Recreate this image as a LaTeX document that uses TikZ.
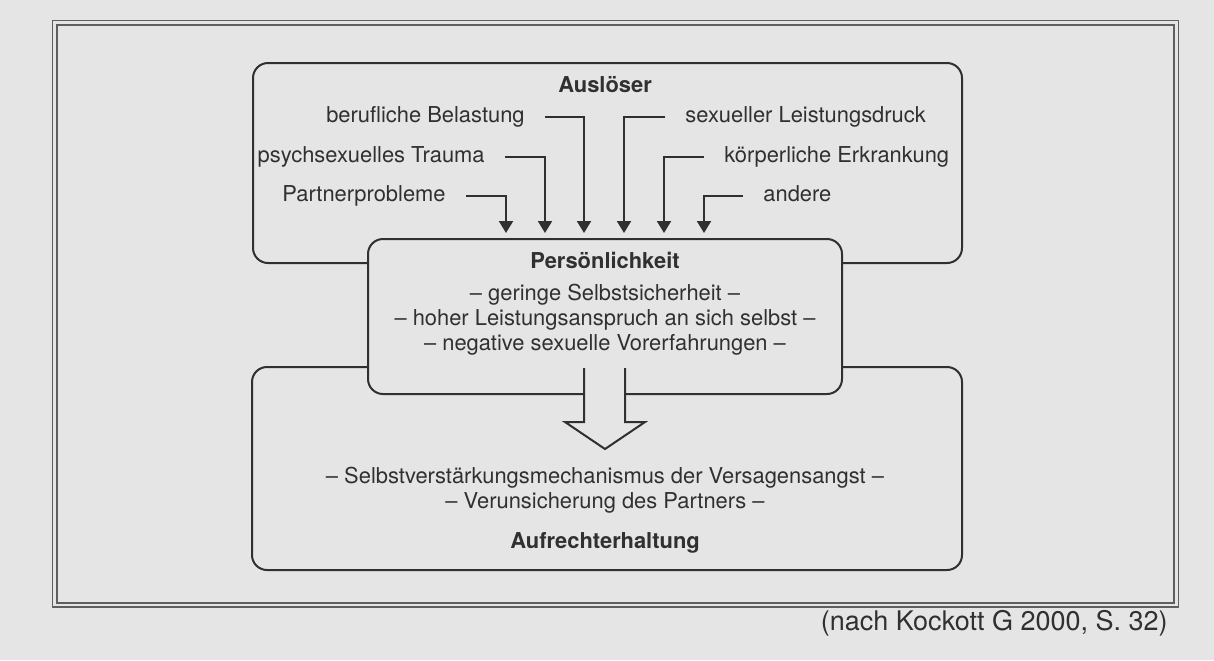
\documentclass[tikz,border=0pt]{standalone}
\usepackage{fontspec}
\setmainfont{TeX Gyre Heros}
\usetikzlibrary{arrows.meta}
\definecolor{paper}{RGB}{229,229,229}
\definecolor{ink}{RGB}{48,48,48}
\definecolor{frameink}{RGB}{95,95,95}
\begin{document}
\begin{tikzpicture}[x=0.5pt,y=-0.5pt,
  every node/.style={font=\fontsize{10.95}{12.5}\selectfont, text=ink, inner sep=0pt},
  lbl/.style={text height=0.72em, text depth=0.21em},
  ttl/.style={lbl, font=\fontsize{10.95}{12.5}\selectfont\bfseries},
  box/.style={draw=ink, line width=1pt, rounded corners=7.5pt, fill=paper},
  conn/.style={draw=ink, line width=1pt, -{Triangle[width=7pt,length=6pt]}},
  frameline/.style={draw=frameink, line width=0.8pt},
  hollow/.style={draw=ink, line width=1pt, line join=miter},
]
\fill[paper] (0,0) rectangle (1214,660);
\useasboundingbox (0,0) rectangle (1214,660);
% outer double frame
\draw[frameline] (52.5,20.5) rectangle (1178.5,607);
\draw[frameline] (57,25) rectangle (1174,603);
% boxes
\node[box, minimum width=355pt, minimum height=101.5pt] (aufr) at (607,468.5) {};
\node[box, minimum width=354.5pt, minimum height=100pt] (ausl) at (607.5,163) {};
\node[box, minimum width=237pt, minimum height=77.5pt] (pers) at (605,316.5) {};
% hollow arrow
\fill[paper] (584,368) -- (584,422) -- (565,422) -- (605,449) -- (645,422) -- (625,422) -- (625,368) -- cycle;
\draw[hollow] (584,368) -- (584,422) -- (565,422) -- (605,449) -- (645,422) -- (625,422) -- (625,368);
% Ausloeser texts
\node[ttl] (tAus) at (605,87) {Auslöser};
\node[lbl, anchor=east] (l1) at (446,196) {Partnerprobleme};
\node[lbl, anchor=east] (l2) at (485,157) {psychsexuelles Trauma};
\node[lbl, anchor=east] (l3) at (525,117) {berufliche Belastung};
\node[lbl, anchor=west] (r1) at (685,117) {sexueller Leistungsdruck};
\node[lbl, anchor=west] (r2) at (724,157) {körperliche Erkrankung};
\node[lbl, anchor=west] (r3) at (763,196) {andere};
\coordinate (p1) at (506,233);
\coordinate (p2) at (545,233);
\coordinate (p3) at (584,233);
\coordinate (p4) at (624,233);
\coordinate (p5) at (664,233);
\coordinate (p6) at (704,233);
\draw[conn] ([xshift=10pt]l1.east) -| (p1);
\draw[conn] ([xshift=10pt]l2.east) -| (p2);
\draw[conn] ([xshift=10pt]l3.east) -| (p3);
\draw[conn] ([xshift=-10pt]r1.west) -| (p4);
\draw[conn] ([xshift=-10pt]r2.west) -| (p5);
\draw[conn] ([xshift=-10pt]r3.west) -| (p6);
% Persoenlichkeit texts
\node[ttl] (tPers) at (605,263) {Persönlichkeit};
\node[lbl] (pa) at (605,295) {– geringe Selbstsicherheit –};
\node[lbl] (pb) at (605,320) {– hoher Leistungsanspruch an sich selbst –};
\node[lbl] (pc) at (605,345) {– negative sexuelle Vorerfahrungen –};
% Aufrechterhaltung texts
\node[lbl] (aa) at (605,478) {– Selbstverstärkungsmechanismus der Versagensangst –};
\node[lbl] (ab) at (605,503) {– Verunsicherung des Partners –};
\node[ttl] (tAufr) at (605,543) {Aufrechterhaltung};
% caption
\node[lbl, font=\fontsize{13.5}{16}\selectfont, anchor=east] (cap) at (1168,625) {(nach Kockott G 2000, S. 32)};
\end{tikzpicture}
\end{document}
